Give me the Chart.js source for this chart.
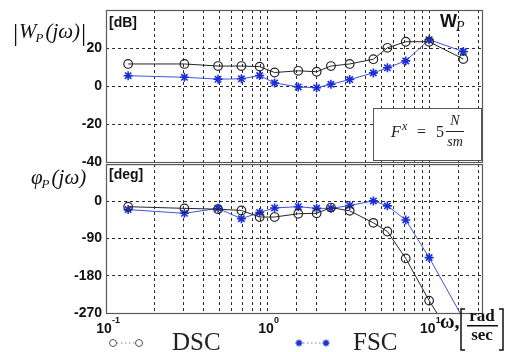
<!DOCTYPE html>
<html>
<head>
<meta charset="utf-8">
<title>W_P</title>
<script src="https://cdn.jsdelivr.net/npm/chart.js@4.4.1/dist/chart.umd.min.js"></script>
<style>
  body { margin: 0; background: #fff; }
  #wrap { position: relative; width: 509px; height: 352px; overflow: hidden; background: #fff; }
  canvas { position: absolute; left: 0; }
  #magChart { top: 0; }
  #phaseChart { top: 158px; }
</style>
</head>
<body>
<div id="wrap">
  <canvas id="magChart" width="509" height="172"></canvas>
  <canvas id="phaseChart" width="509" height="194"></canvas>
</div>
<script>
const omega = [0.137, 0.305, 0.492, 0.686, 0.889, 1.10, 1.54, 2.0, 2.45, 3.2, 4.48, 5.47, 7.1, 9.9, 16.1];
const magDSC = [11.6, 11.6, 10.5, 10.5, 10.2, 7.1, 8.0, 7.5, 10.5, 11.6, 14.1, 20.1, 23.3, 23.3, 14.2];
const magFSC = [5.4, 4.6, 3.6, 3.8, 5.5, 1.6, -0.5, -0.9, 0.9, 3.4, 6.9, 9.6, 13.2, 24.4, 18.1];
const phaseDSC = [-13, -17, -19, -22, -38, -38, -30, -29, -15, -23, -52, -73, -138, -240, -372];
const phaseFSC = [-20, -29, -17, -42, -27, -16, -13, -17, -17, -10, 1, -11, -45, -136, -284];

const magTicks = [-40, -20, 0, 20];
const phaseTicks = [-270, -180, -90, 0];
const decades = [0.1, 1, 10];
const decadeExp = ['-1', '0', '1'];
const seriesNames = ['DSC', 'FSC'];

const SANS = '"Liberation Sans", Arial, sans-serif';
const SERIF = '"Liberation Serif", "Times New Roman", serif';
const DSC_COLOR = '#262626';
const FSC_COLOR = '#1a2ed8';
const FSC_LINE = '#4052e0';

function pts(ys) {
    return omega.map((w, i) => ({ x: w, y: ys[i] }));
}

function makeDatasets(dsc, fsc) {
    return [{
        label: seriesNames[0],
        data: pts(dsc),
        borderColor: DSC_COLOR,
        borderWidth: 1,
        pointStyle: 'circle',
        pointRadius: 4.3,
        pointBorderWidth: 1.2,
        pointBackgroundColor: 'rgba(255,255,255,0)',
        pointBorderColor: DSC_COLOR,
        clip: 0
    }, {
        label: seriesNames[1],
        data: pts(fsc),
        borderColor: FSC_LINE,
        borderWidth: 1,
        pointStyle: 'star',
        pointRadius: 4.5,
        pointBorderWidth: 1.6,
        pointBorderColor: FSC_COLOR,
        pointBackgroundColor: FSC_COLOR,
        clip: 0
    }];
}

function makeOptions(yMin, yMax, yTicks, padTop, xHeight) {
    return {
        responsive: false,
        animation: false,
        layout: { padding: { top: padTop, right: 27, bottom: 0, left: 0 } },
        plugins: { legend: { display: false }, tooltip: { enabled: false } },
        scales: {
            x: {
                type: 'logarithmic',
                min: 0.1,
                max: 21,
                ticks: { display: false },
                grid: { color: '#2a2a2a', lineWidth: 1, drawTicks: false },
                border: { display: false, dash: [3, 3] },
                afterFit: s => { s.height = xHeight; s.paddingLeft = 0; s.paddingRight = 0; }
            },
            y: {
                min: yMin,
                max: yMax,
                afterBuildTicks: s => { s.ticks = yTicks.map(v => ({ value: v })); },
                ticks: { padding: 4, color: '#111', font: { family: SANS, size: 14, weight: 'bold' } },
                grid: { color: '#2a2a2a', lineWidth: 1, drawTicks: false },
                border: { display: false, dash: [3, 3] },
                afterFit: s => { s.width = 106; s.paddingTop = 0; s.paddingBottom = 0; }
            }
        }
    };
}

function frame(chart) {
    const { ctx, chartArea: a } = chart;
    ctx.save();
    ctx.strokeStyle = '#5a5a5a';
    ctx.lineWidth = 1.2;
    ctx.strokeRect(a.left + 0.5, a.top + 0.5, a.right - a.left, a.bottom - a.top);
    ctx.restore();
}

// |W_P(jw)| or phi_P(jw) style title, returns nothing
function title(ctx, sym, x, y, bars) {
    if (bars) {
        ctx.font = '26px ' + SERIF;
        ctx.fillText('|', x - 6, y + 3);
    }
    ctx.font = 'italic 21px ' + SERIF;
    ctx.fillText(sym, x, y);
    x += ctx.measureText(sym).width;
    ctx.font = 'italic 13px ' + SERIF;
    ctx.fillText('P', x - 1, y + 4);
    x += ctx.measureText('P').width;
    ctx.font = 'italic 21px ' + SERIF;
    ctx.fillText('(jω)', x + 1, y);
    x += ctx.measureText('(jω)').width + 1;
    if (bars) {
        ctx.font = '26px ' + SERIF;
        ctx.fillText('|', x + 1, y + 3);
    }
}

function star(ctx, x, y, r) {
    ctx.beginPath();
    for (let k = 0; k < 4; k++) {
        const t = k * Math.PI / 4;
        ctx.moveTo(x - r * Math.cos(t), y - r * Math.sin(t));
        ctx.lineTo(x + r * Math.cos(t), y + r * Math.sin(t));
    }
    ctx.stroke();
}

function drawMag(chart) {
    const { ctx, chartArea: a } = chart;
    frame(chart);
    ctx.save();
    ctx.fillStyle = '#111';
    ctx.font = 'bold 14px ' + SANS;
    ctx.fillText('[dB]', a.left + 3, a.top + 17);

    ctx.font = 'bold 18px ' + SANS;
    ctx.fillText('W', a.right - 42, a.top + 17);
    ctx.font = 'italic 14px ' + SERIF;
    ctx.fillText('P', a.right - 26, a.top + 21);

    title(ctx, 'W', 19, 38, true);

    // F^x box
    const bx = a.right - 109, by = a.bottom - 54, bw = 108, bh = 52;
    ctx.fillStyle = '#fff';
    ctx.fillRect(bx, by, bw, bh);
    ctx.strokeStyle = '#555';
    ctx.lineWidth = 1;
    ctx.strokeRect(bx + 0.5, by + 0.5, bw, bh);
    ctx.fillStyle = '#222';
    ctx.font = 'italic 16px ' + SERIF;
    ctx.fillText('F', bx + 18, by + 29);
    ctx.font = 'italic 12px ' + SERIF;
    ctx.fillText('x', bx + 29, by + 22);
    ctx.font = '16px ' + SERIF;
    ctx.fillText('=', bx + 44, by + 29);
    ctx.fillText('5', bx + 63, by + 29);
    ctx.textAlign = 'center';
    ctx.font = 'italic 14px ' + SERIF;
    ctx.fillText('N', bx + 82, by + 17);
    ctx.fillText('sm', bx + 82, by + 38);
    ctx.fillRect(bx + 73, by + 23, 18, 1);
    ctx.restore();
}

function drawPhase(chart) {
    const { ctx, chartArea: a, scales } = chart;
    frame(chart);
    ctx.save();
    ctx.fillStyle = '#111';
    ctx.font = 'bold 14px ' + SANS;
    ctx.fillText('[deg]', a.left + 3, a.top + 15);

    title(ctx, 'φ', 31, a.top + 20, false);

    // decade tick labels
    decades.forEach((v, i) => {
        const px = scales.x.getPixelForValue(v) - 2;
        ctx.font = 'bold 14px ' + SANS;
        ctx.textAlign = 'center';
        ctx.fillText('10', px, a.bottom + 20);
        ctx.textAlign = 'left';
        ctx.font = 'bold 9px ' + SANS;
        ctx.fillText(decadeExp[i], px + 8, a.bottom + 10);
    });

    // legend
    const ly = a.bottom + 30;
    ctx.lineWidth = 1;
    ctx.setLineDash([1.5, 2.5]);
    ctx.strokeStyle = '#888';
    ctx.beginPath(); ctx.moveTo(117, ly); ctx.lineTo(135, ly); ctx.stroke();
    ctx.strokeStyle = '#7080e8';
    ctx.beginPath(); ctx.moveTo(303, ly); ctx.lineTo(322, ly); ctx.stroke();
    ctx.setLineDash([]);
    ctx.strokeStyle = '#555';
    [113, 139].forEach(cx => { ctx.beginPath(); ctx.arc(cx, ly, 3.5, 0, Math.PI * 2); ctx.stroke(); });
    ctx.strokeStyle = FSC_COLOR;
    ctx.lineWidth = 1.4;
    [299, 326].forEach(cx => star(ctx, cx, ly, 3.5));
    ctx.fillStyle = '#222';
    ctx.font = '25px ' + SERIF;
    ctx.fillText(seriesNames[0], 172, a.bottom + 37);
    ctx.fillText(seriesNames[1], 353, a.bottom + 37);

    // omega, [rad/sec]
    ctx.fillStyle = '#111';
    ctx.font = 'bold 20px ' + SERIF;
    ctx.fillText('ω,', a.right - 42, a.bottom + 15);
    ctx.textAlign = 'center';
    ctx.font = 'bold 17px ' + SERIF;
    ctx.fillText('rad', a.right, a.bottom + 8);
    ctx.fillText('sec', a.right, a.bottom + 27);
    ctx.fillRect(a.right - 15, a.bottom + 12, 31, 1.5);
    ctx.strokeStyle = '#111';
    ctx.lineWidth = 1.5;
    ctx.beginPath();
    ctx.moveTo(a.right - 17, a.bottom - 4); ctx.lineTo(a.right - 21, a.bottom - 4);
    ctx.lineTo(a.right - 21, a.bottom + 37); ctx.lineTo(a.right - 17, a.bottom + 37);
    ctx.moveTo(a.right + 17, a.bottom - 4); ctx.lineTo(a.right + 21, a.bottom - 4);
    ctx.lineTo(a.right + 21, a.bottom + 37); ctx.lineTo(a.right + 17, a.bottom + 37);
    ctx.stroke();
    ctx.restore();
}

new Chart(document.getElementById('magChart'), {
    type: 'line',
    data: { datasets: makeDatasets(magDSC, magFSC) },
    options: makeOptions(-40, 40, magTicks, 10, 10),
    plugins: [{ id: 'magDeco', afterDraw: drawMag }]
});

new Chart(document.getElementById('phaseChart'), {
    type: 'line',
    data: { datasets: makeDatasets(phaseDSC, phaseFSC) },
    options: makeOptions(-270, 90, phaseTicks, 5, 39),
    plugins: [{ id: 'phaseDeco', afterDraw: drawPhase }]
});
</script>
</body>
</html>
